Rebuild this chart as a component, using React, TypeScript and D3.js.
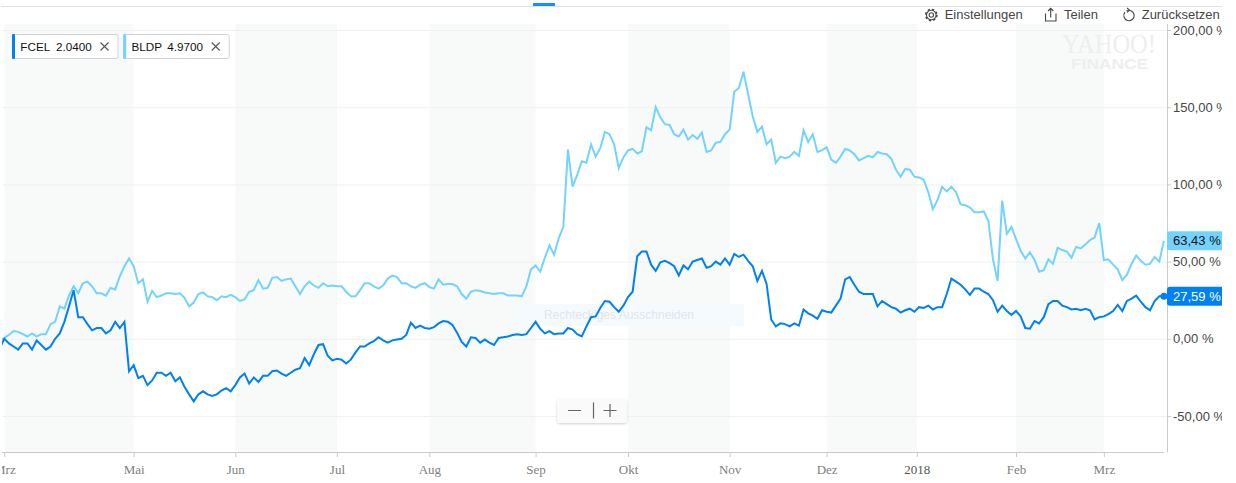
import React, { useEffect, useRef } from "react";
import * as d3 from "d3";

const fcelValues = [
  -6, 0, -3, -5, -7, -3, -3, -7, -1, -4,
  -7, -5, 0, 3.5, 11, 21, 31.5, 14, 14, 9.5,
  5.5, 7, 7, 3.5, 5.5, 11, 7, 11, -21, -17,
  -25.5, -24, -30, -27, -22, -22, -24, -22, -27.5, -25,
  -31, -36, -40.5, -36, -34, -36, -37, -36, -33.5, -32,
  -34, -30, -25, -22.5, -29, -25, -28, -24, -24, -21,
  -20.5, -22.5, -24, -22, -20, -19, -12.5, -17, -10, -4,
  -3.5, -11, -14, -13, -13.5, -16, -13.5, -9, -5, -5,
  -3, -1.5, 1, -1, -2.5, -1, -0.5, 0, 2.5, 10.5,
  7, 8.5, 7, 6.5, 7.5, 10, 11.5, 11, 9, 4,
  -2, -5, 1, 0.5, -2.5, -0.5, -2.5, -4, 0.5, 1,
  1.5, 2.5, 3, 2.5, 3, 7, 11, 6.5, 3.5, 5,
  3, 3.5, 3.5, 7, 6, 3, 1.5, 8, 14, 14.5,
  20, 24.5, 24, 20.5, 17.5, 21.5, 27, 30.5, 53.5, 56.5,
  56.5, 48, 44, 49.5, 50.5, 49, 47, 41, 47.5, 45,
  50, 51, 52, 46, 47, 50, 48, 52, 48, 55,
  53, 54.5, 50.5, 47, 37.5, 44, 35.5, 12.5, 8, 10,
  9.5, 8, 10, 8.5, 19, 16.5, 15, 13, 18.5, 17.5,
  17, 21.5, 26, 38.5, 40, 35, 30.5, 29, 29, 29,
  21, 24.5, 22.5, 20.5, 19.5, 17, 18.5, 19.5, 17.5, 20.5,
  20, 21.5, 19, 20.5, 20.5, 29, 39, 37, 35, 32,
  28.5, 32.5, 32.5, 30.5, 29, 25, 17.5, 21.5, 18, 15.5,
  18, 14.5, 7, 6.5, 11.5, 10, 14, 22.5, 24.5, 24.5,
  21.5, 20.5, 19, 19.5, 18.5, 19.5, 18.5, 12.5, 14, 14.5,
  16, 18, 22, 18, 24.5, 26, 28, 24, 20.5, 18.5,
  24.5, 27.5, 27.59,
];

const bldpValues = [
  -1.5, 0.5, 2.5, 5, 4.5, 3, 1.5, 3.5, 1.5, 3,
  3, 9.5, 11, 21, 19.5, 28, 34, 29.5, 36, 37,
  34, 29.5, 29.5, 28, 33, 32, 40.5, 47, 52, 47,
  36, 38.5, 24, 31, 27, 28, 29.5, 29.5, 29, 29.5,
  26.5, 21, 23.5, 29, 30, 27.5, 27, 25, 27.5, 27,
  28.5, 27, 24.5, 25.5, 30.5, 31.5, 38, 32.5, 33, 39.5,
  40, 37.5, 38.5, 39, 34, 29, 34, 37, 34.5, 33,
  36, 34, 34.5, 34, 34, 30.5, 27.5, 27.5, 31.5, 36,
  36, 34, 32.5, 34.5, 39, 41, 40, 36, 36, 34,
  33, 35, 36, 33.5, 32.5, 38.5, 35, 35.5, 35.5, 34,
  29, 26, 30.5, 31.5, 31, 30, 29.5, 29, 29.5, 29.5,
  28, 28, 28, 27.5, 34, 45, 47.5, 43.5, 52.5, 60.5,
  54.5, 65, 72.5, 122.5, 98.5, 106, 115, 114, 126, 118,
  123.5, 134, 132.5, 126, 110.5, 117.5, 122, 123, 120, 121.5,
  137, 135, 150, 143.5, 139, 138.5, 132.5, 131, 135.5, 129,
  132, 129.5, 133.5, 121, 122, 127, 127.5, 132.5, 135.5, 160,
  162.5, 173, 158.5, 144, 134, 137.5, 126, 129, 114, 118,
  117, 118, 121, 118.5, 135, 127.5, 132.5, 121, 122, 124,
  116, 114, 118, 123, 122, 119.5, 115.5, 117, 118.5, 117.5,
  121, 120, 119.5, 116.5, 109.5, 105, 110, 109.5, 105, 104.5,
  103, 95, 84, 90, 98.5, 95.5, 98.5, 95, 87, 86.5,
  85, 82, 82, 82.5, 76.5, 51.5, 37.5, 89.5, 68, 72.5,
  64.5, 57, 52, 56, 51, 43.5, 44.5, 51.5, 48.5, 59,
  57.5, 56.5, 52.5, 59.5, 58.5, 61, 64, 65.5, 75, 51,
  51.5, 48, 45, 38, 41.5, 48.5, 54, 50.5, 48, 48.5,
  53, 50, 63.43,
];

const yTicks = [-50, 0, 50, 100, 150, 200];
const monthLabels = ["Mrz", "Mai", "Jun", "Jul", "Aug", "Sep", "Okt", "Nov", "Dez", "2018", "Feb", "Mrz"];
const monthIndexes = [1, 29, 51, 73, 93, 116, 136, 158, 179, 198.5, 220, 239];
const legendNames = ["FCEL", "BLDP"];
const legendPrices = ["2.0400", "4.9700"];
const toolbarLabels = ["Einstellungen", "Teilen", "Zurücksetzen"];

const BLUE = "#0081f2";
const LIGHT = "#72d3ff";
const SANS = "'Liberation Sans', Arial, sans-serif";
const SERIF = "'Liberation Serif', 'Times New Roman', serif";

const width = 1236;
const height = 483;
const plotLeft = 2;
const plotRight = 1167;
const plotTop = 24;
const plotBottom = 452;
const cutRight = 1222;

const App = () => {
  const ref: any = useRef(null);

  useEffect(() => {
    const svg = d3.select(ref.current);
    svg.selectAll("*").remove();

    const x = d3.scaleLinear().domain([0, 252]).range([-0.3, 1163.9]);
    const y = d3.scaleLinear().domain([-50, 200]).range([416, 30]);

    const de = d3.formatLocale({
      decimal: ",",
      thousands: ".",
      grouping: [3],
      currency: ["", " €"],
      minus: "-",
    });
    const pct = (d: number) => `${de.format(".2f")(d)} %`;

    const defs = svg.append("defs");
    defs
      .append("clipPath")
      .attr("id", "page-clip")
      .append("rect")
      .attr("x", plotLeft)
      .attr("y", 0)
      .attr("width", cutRight - plotLeft)
      .attr("height", height);
    defs
      .append("clipPath")
      .attr("id", "plot-clip")
      .append("rect")
      .attr("x", plotLeft)
      .attr("y", plotTop)
      .attr("width", plotRight - plotLeft)
      .attr("height", plotBottom - plotTop);
    const shadow = defs.append("filter").attr("id", "soft-shadow");
    shadow
      .append("feDropShadow")
      .attr("dx", 0)
      .attr("dy", 1)
      .attr("stdDeviation", 1)
      .attr("flood-color", "#000")
      .attr("flood-opacity", 0.18);

    // header line and the small blue marker on it
    svg
      .append("rect")
      .attr("x", 1)
      .attr("y", 6)
      .attr("width", cutRight - 1)
      .attr("height", 1)
      .attr("fill", "#e0e0e9");
    svg
      .append("rect")
      .attr("x", 533)
      .attr("y", 3)
      .attr("width", 22)
      .attr("height", 3)
      .attr("fill", "#188fff");

    const root = svg.append("g").attr("clip-path", "url(#page-clip)");

    // alternating month bands
    const bandStops = monthIndexes.map((d) => x(d));
    bandStops.forEach((start, i) => {
      if (i % 2 === 1 || i === bandStops.length - 1) return;
      root
        .append("rect")
        .attr("x", start)
        .attr("y", plotTop)
        .attr("width", bandStops[i + 1] - start)
        .attr("height", plotBottom - plotTop)
        .attr("fill", "#f8f9f9");
    });

    // grid lines
    const grid = root
      .append("g")
      .attr("transform", `translate(${plotRight},0)`)
      .call(d3.axisLeft(y).tickValues(yTicks).tickSize(plotRight - plotLeft).tickFormat(() => ""));
    grid.select(".domain").remove();
    grid.selectAll("line").attr("stroke", "#eff0f2");

    // watermark
    root
      .append("text")
      .attr("x", 1062)
      .attr("y", 53)
      .attr("font-family", SERIF)
      .attr("font-size", 28)
      .attr("textLength", 94)
      .attr("lengthAdjust", "spacingAndGlyphs")
      .attr("fill", "#eeeeef")
      .text("YAHOO!");
    root
      .append("text")
      .attr("x", 1071)
      .attr("y", 69)
      .attr("font-family", SANS)
      .attr("font-weight", "bold")
      .attr("font-size", 15)
      .attr("textLength", 77)
      .attr("lengthAdjust", "spacingAndGlyphs")
      .attr("fill", "#eeeeef")
      .text("FINANCE");

    // ghost tooltip behind the lines
    root
      .append("rect")
      .attr("x", 514)
      .attr("y", 304)
      .attr("width", 230)
      .attr("height", 22)
      .attr("fill", "#f5faff");
    root
      .append("text")
      .attr("x", 619)
      .attr("y", 319)
      .attr("text-anchor", "middle")
      .attr("font-family", SANS)
      .attr("font-size", 12)
      .attr("fill", "#e2e5ea")
      .text("Rechteckiges Ausschneiden");

    // series
    const line = d3
      .line<number>()
      .x((_, i) => x(i))
      .y((d) => y(d));
    const lines = root.append("g").attr("clip-path", "url(#plot-clip)");
    lines
      .append("path")
      .datum(bldpValues)
      .attr("d", line)
      .attr("fill", "none")
      .attr("stroke", LIGHT)
      .attr("stroke-width", 2);
    lines
      .append("path")
      .datum(fcelValues)
      .attr("d", line)
      .attr("fill", "none")
      .attr("stroke", BLUE)
      .attr("stroke-width", 2);

    // x axis
    const xAxis = root
      .append("g")
      .attr("transform", `translate(0,${plotBottom})`)
      .call(
        d3
          .axisBottom(x)
          .tickValues(monthIndexes)
          .tickSize(5)
          .tickSizeOuter(0)
          .tickFormat((_, i) => monthLabels[i])
      );
    xAxis.select(".domain").attr("stroke", "#c9cad2");
    xAxis.selectAll("line").attr("stroke", "#c9cad2");
    xAxis
      .selectAll("text")
      .attr("y", 13)
      .attr("dy", "0.71em")
      .attr("font-family", SERIF)
      .attr("font-size", 13)
      .attr("fill", (_, i) => (monthLabels[i] === "2018" ? "#555" : "#808080"));

    // y axis
    const yAxis = root
      .append("g")
      .attr("transform", `translate(${plotRight},0)`)
      .call(d3.axisRight(y).tickValues(yTicks).tickSize(4).tickSizeOuter(0).tickFormat((d: any) => pct(d)));
    yAxis
      .select(".domain")
      .attr("stroke", "#c9cad2")
      .attr("d", `M0.5,${plotTop}V${plotBottom + 0.5}`);
    yAxis.selectAll("line").attr("stroke", "#c9cad2");
    yAxis
      .selectAll("text")
      .attr("x", 6)
      .attr("font-family", SANS)
      .attr("font-size", 13)
      .attr("fill", "#464646");

    // end of line value tags
    const tags = [
      { value: bldpValues[bldpValues.length - 1], color: LIGHT, text: "#111" },
      { value: fcelValues[fcelValues.length - 1], color: BLUE, text: "#fff" },
    ];
    tags.forEach((t) => {
      root
        .append("rect")
        .attr("x", plotRight)
        .attr("y", y(t.value) - 9.5)
        .attr("width", 60)
        .attr("height", 19)
        .attr("rx", 3)
        .attr("fill", t.color);
      root
        .append("text")
        .attr("x", plotRight + 6)
        .attr("y", y(t.value) + 4.5)
        .attr("font-family", SANS)
        .attr("font-size", 13)
        .attr("fill", t.text)
        .text(pct(t.value));
    });
    root
      .append("circle")
      .attr("cx", x(252))
      .attr("cy", y(fcelValues[fcelValues.length - 1]))
      .attr("r", 3.5)
      .attr("fill", BLUE);

    // legend chips
    legendNames.forEach((name, i) => {
      const chip = root.append("g").attr("transform", `translate(${12 + i * 111.2},34)`);
      chip
        .append("rect")
        .attr("x", 0.5)
        .attr("y", 0.5)
        .attr("width", 105.5)
        .attr("height", 24)
        .attr("rx", 2)
        .attr("fill", "#fff")
        .attr("stroke", "#d2d3da");
      chip
        .append("rect")
        .attr("x", 0)
        .attr("y", 0)
        .attr("width", 3)
        .attr("height", 25)
        .attr("rx", 1)
        .attr("fill", i === 0 ? BLUE : LIGHT);
      chip
        .append("text")
        .attr("x", 8.3)
        .attr("y", 17)
        .attr("font-family", SANS)
        .attr("font-size", 11.7)
        .attr("fill", "#111")
        .text(name);
      chip
        .append("text")
        .attr("x", 44)
        .attr("y", 17)
        .attr("font-family", SANS)
        .attr("font-size", 11.7)
        .attr("fill", "#111")
        .text(legendPrices[i]);
      chip
        .append("path")
        .attr("d", "M88.5,8.5l8,8M96.5,8.5l-8,8")
        .attr("stroke", "#555")
        .attr("stroke-width", 1.1)
        .attr("fill", "none");
    });

    // toolbar
    const toolbarX = [944.7, 1064, 1141.7];
    toolbarLabels.forEach((label, i) => {
      root
        .append("text")
        .attr("x", toolbarX[i])
        .attr("y", 19)
        .attr("font-family", SANS)
        .attr("font-size", 13)
        .attr("fill", "#464646")
        .text(label);
    });
    const icons = root
      .append("g")
      .attr("fill", "none")
      .attr("stroke", "#464646")
      .attr("stroke-width", 1.1);
    icons.append("circle").attr("cx", 931.3).attr("cy", 15).attr("r", 2.2);
    icons.append("circle").attr("cx", 931.3).attr("cy", 15).attr("r", 4.8);
    icons
      .append("circle")
      .attr("cx", 931.3)
      .attr("cy", 15)
      .attr("r", 5.6)
      .attr("stroke-width", 1.6)
      .attr("stroke-dasharray", "2.2 2.2");
    icons.append("path").attr("d", "M1045.5,13.5v7.5h10.5v-7.5M1050.7,17.5v-9M1048,11l2.7,-2.7l2.7,2.7");
    icons
      .append("path")
      .attr("d", d3.arc()({ innerRadius: 5.2, outerRadius: 5.2, startAngle: -0.5, endAngle: 5.4 }) as string)
      .attr("transform", "translate(1129,15.5)");
    icons.append("path").attr("d", "M1127,8l2.6,2.2l-2.6,2.2");

    // zoom buttons
    const zoomBox = root.append("g").attr("transform", "translate(557,399)");
    zoomBox
      .append("rect")
      .attr("width", 70)
      .attr("height", 24)
      .attr("rx", 3)
      .attr("fill", "#fafafa")
      .attr("filter", "url(#soft-shadow)");
    zoomBox
      .append("path")
      .attr("d", "M11,11.5h13M36.5,3.5v16M46.5,11.5h13M53,5v13")
      .attr("stroke", "#666")
      .attr("stroke-width", 1.2)
      .attr("fill", "none");
  }, []);

  return (
    <svg
      ref={ref}
      width={width}
      height={height}
      style={{ position: "absolute", left: 0, top: 0, display: "block", background: "#fff" }}
    />
  );
};

export default App;
